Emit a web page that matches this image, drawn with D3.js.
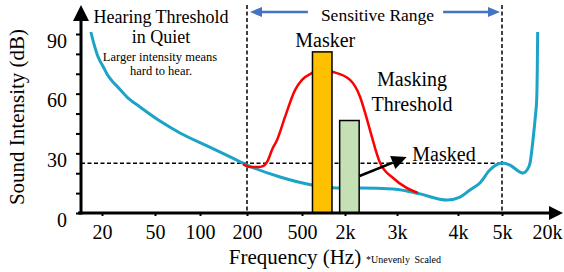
<!DOCTYPE html>
<html>
<head>
<meta charset="utf-8">
<script src="https://cdn.jsdelivr.net/npm/d3@7"></script>
<style>
  body { margin: 0; background: #fff; }
  svg { display: block; font-family: "Liberation Serif", "Times New Roman", serif; }
</style>
</head>
<body>
<svg width="564" height="272"></svg>
<script>
// frequency axis is unevenly scaled, so each tick gets its own slot
const freqTicks = [20, 50, 100, 200, 500, 2000, 3000, 4000, 5000, 20000];
const freqLabels = ["20", "50", "100", "200", "500", "2k", "3k", "4k", "5k", "20k"];
const dbTicks = [0, 30, 60, 90];

// hearing threshold in quiet (Hz, dB)
const quietFreq = [16.5, 17.4, 18.7, 20.3, 21.8, 23.8, 25.9, 30.8, 38.6, 54, 73.5, 111, 156, 200,
    347, 690, 1545, 2250, 2910, 3140, 3345, 3800, 4040, 4250, 4470, 4700, 5000,
    6400, 8700, 9550, 10800, 11850, 12990, 14030, 14550, 14820, 15000];
const quietDb = [91, 85, 78.4, 73.9, 69.9, 66.4, 63.8, 58.3, 53.3, 46.2, 40.2, 33.7, 28.2, 24.1,
    18.1, 14.1, 12.6, 12.6, 12.1, 11.1, 9.6, 6.5, 8.0, 11.6, 15.1, 21.6, 25.1,
    24.1, 20.6, 20.1, 21.6, 25.1, 36.7, 49.3, 56.8, 71.9, 91];

// masking threshold around the masker (Hz, dB)
const maskFreq = [188.5, 210, 240, 261, 284, 303, 330, 377, 445, 500, 690, 953, 1358,
    2080, 2250, 2340, 2430, 2630, 2910, 3140, 3310];
const maskDb = [24.6, 23.1, 23.1, 23.6, 26.6, 31.7, 36.7, 48.3, 61.8, 66.9, 70.4, 71.9, 70.9,
    66.9, 58.3, 50.3, 41.7, 25.1, 17.6, 12.6, 10.1];

// tones
const barNames = ["Masker", "Masked"];
const barFreq = [960, 2070];
const barDb = [81, 46.5];

const rangeFreq = [200, 5000];
const maskedLevel = 25;
const maskedArrow = [[2240, 18.6], [3140, 28.2]];

const svg = d3.select("svg");
const tickPx = [102, 155, 200, 247, 302, 345, 397, 458, 502, 547];
const x = d3.scaleLog().domain(freqTicks).range(tickPx);
const y = d3.scaleLinear().domain([0, 90]).range([213, 34]);
const x0 = 81, yTop = 5, xEnd = 564;

const blue = "#1ba3c8";
const arrowBlue = "#4472c4";

// reference dashed lines
const dash = svg.append("g").attr("stroke", "#000").attr("stroke-width", 1.5)
    .attr("stroke-dasharray", "4,2.5").attr("fill", "none");
rangeFreq.forEach(f => {
    dash.append("line")
        .attr("x1", x(f)).attr("x2", x(f))
        .attr("y1", yTop).attr("y2", y(0));
});
dash.append("line")
    .attr("x1", x0).attr("x2", x(rangeFreq[1]))
    .attr("y1", y(maskedLevel)).attr("y2", y(maskedLevel));

const line = d3.line().x(d => x(d[0])).y(d => y(d[1])).curve(d3.curveMonotoneX);

svg.append("path")
    .datum(d3.zip(quietFreq, quietDb))
    .attr("d", line)
    .attr("fill", "none").attr("stroke", blue).attr("stroke-width", 3);

svg.append("path")
    .datum(d3.zip(maskFreq, maskDb))
    .attr("d", line)
    .attr("fill", "none").attr("stroke", "#ff0000").attr("stroke-width", 2.5);

// tone bars
const barW = 19.5;
svg.selectAll("rect.tone")
    .data(d3.zip(barNames, barFreq, barDb))
    .join("rect")
    .attr("class", "tone")
    .attr("x", d => x(d[1]) - barW / 2)
    .attr("width", barW)
    .attr("y", d => y(d[2]))
    .attr("height", d => y(0) - y(d[2]))
    .attr("fill", (d, i) => i === 0 ? "#ffc000" : "#c5e0b4")
    .attr("stroke", "#000").attr("stroke-width", 1.5);

// axes
const xAxis = svg.append("g")
    .attr("transform", `translate(0,${y(0)})`)
    .call(d3.axisBottom(x).tickValues(freqTicks)
        .tickFormat((d, i) => freqLabels[i]).tickSize(3).tickPadding(9));
xAxis.select(".domain").remove();
xAxis.selectAll(".tick line").attr("stroke-width", 2)
    .filter(d => d === 20000).remove();
xAxis.selectAll("text").attr("font-size", 20).attr("font-family", "Liberation Serif").attr("fill", "#000");

const yAxis = svg.append("g")
    .attr("transform", `translate(${x0},0)`)
    .call(d3.axisLeft(y).tickValues(d3.range(0, 91, 10))
        .tickFormat(d => dbTicks.includes(d) ? d : "").tickSize(5).tickPadding(9));
yAxis.select(".domain").remove();
yAxis.selectAll(".tick line").attr("stroke-width", 2);
yAxis.selectAll("text").attr("font-size", 20).attr("font-family", "Liberation Serif")
    .attr("fill", "#000").attr("dy", "0.65em");

svg.append("line").attr("x1", x0).attr("x2", x0).attr("y1", y(0) + 1.5).attr("y2", 18)
    .attr("stroke", "#000").attr("stroke-width", 3);
svg.append("path").attr("d", `M${x0},${yTop} L${x0 + 8},${yTop + 16} L${x0 - 8},${yTop + 16} Z`);
svg.append("line").attr("x1", x0 - 3).attr("x2", xEnd - 12).attr("y1", y(0)).attr("y2", y(0))
    .attr("stroke", "#000").attr("stroke-width", 3);
svg.append("path").attr("d", `M${xEnd - 1},${y(0)} L${xEnd - 15},${y(0) - 7} L${xEnd - 15},${y(0) + 7} Z`);

// arrow helper: shaft plus filled head
function arrow(x1, y1, x2, y2, color, w, len, half) {
    const a = Math.atan2(y2 - y1, x2 - x1);
    const bx = x2 - len * Math.cos(a), by = y2 - len * Math.sin(a);
    svg.append("line").attr("x1", x1).attr("y1", y1).attr("x2", bx).attr("y2", by)
        .attr("stroke", color).attr("stroke-width", w);
    const px = -Math.sin(a) * half, py = Math.cos(a) * half;
    svg.append("path")
        .attr("d", `M${x2},${y2} L${bx + px},${by + py} L${bx - px},${by - py} Z`)
        .attr("fill", color);
}

// sensitive range arrows
const midRange = (x(rangeFreq[0]) + x(rangeFreq[1])) / 2 + 3;
const rangeText = svg.append("text")
    .attr("x", midRange).attr("y", 21)
    .attr("text-anchor", "middle").attr("font-size", 17.5)
    .text("Sensitive Range");
const half = rangeText.node().getComputedTextLength() / 2;
arrow(midRange - half - 13, 12, x(rangeFreq[0]) + 3, 12, arrowBlue, 2.5, 12, 5);
arrow(midRange + half + 9, 12, x(rangeFreq[1]) - 2, 12, arrowBlue, 2.5, 12, 5);

// masked arrow
arrow(x(maskedArrow[0][0]), y(maskedArrow[0][1]), x(maskedArrow[1][0]), y(maskedArrow[1][1]),
    "#000", 2.5, 15, 7);

// labels
const labels = [
    { t: "Hearing Threshold", x: 161, y: 23, s: 18 },
    { t: "in Quiet", x: 161, y: 43, s: 18 },
    { t: "Larger intensity means", x: 160, y: 60.5, s: 12.5 },
    { t: "hard to hear.", x: 161, y: 74.5, s: 12.5 },
    { t: "Masker", x: x(barFreq[0]) + 3, y: 46.5, s: 20 },
    { t: "Masking", x: 412, y: 86, s: 20 },
    { t: "Threshold", x: 412, y: 111, s: 20 },
    { t: "Masked", x: 444, y: 161, s: 20 },
    { t: "Frequency (Hz)", x: 295, y: 263.5, s: 21 }
];
svg.selectAll("text.lbl")
    .data(labels)
    .join("text")
    .attr("class", "lbl")
    .attr("x", d => d.x).attr("y", d => d.y)
    .attr("text-anchor", "middle")
    .attr("font-size", d => d.s)
    .text(d => d.t);

svg.append("text")
    .attr("x", 366).attr("y", 263)
    .attr("font-size", 10)
    .attr("word-spacing", 2)
    .text("*Unevenly Scaled");

svg.append("text")
    .attr("transform", "translate(24,117) rotate(-90)")
    .attr("text-anchor", "middle")
    .attr("font-size", 21)
    .text("Sound Intensity (dB)");
</script>
</body>
</html>
